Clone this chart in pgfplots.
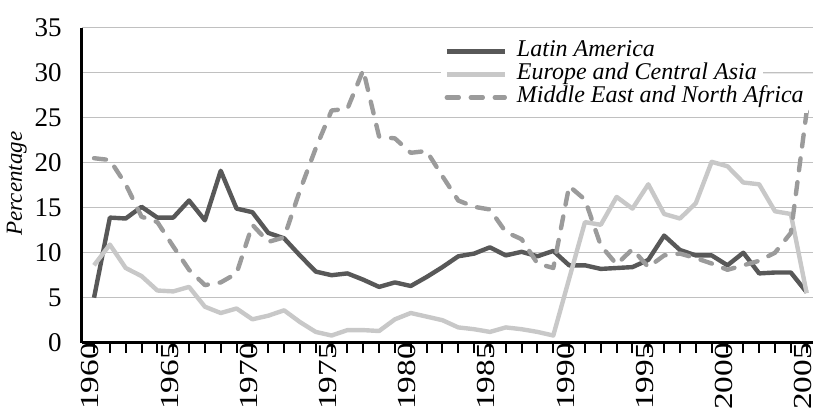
\documentclass[border=0pt]{standalone}
\usepackage{fontspec}
\setmainfont{Liberation Serif}
\usepackage{graphicx}
\usepackage{pgfplots}
\usepackage{pgfplotstable}
\pgfplotsset{compat=1.18}

\definecolor{latam}{RGB}{88,88,88}
\definecolor{eca}{RGB}{200,200,200}
\definecolor{mena}{RGB}{155,155,155}
\definecolor{gridc}{RGB}{192,192,192}

% shares by region
\pgfplotstableread{
year latam eca  mena
1960 5.0   8.6  20.5
1961 13.9  10.9 20.3
1962 13.8  8.3  17.6
1963 15.1  7.4  14.0
1964 13.9  5.8  13.4
1965 13.9  5.7  10.7
1966 15.8  6.2  8.1
1967 13.6  4.0  6.4
1968 19.1  3.3  6.7
1969 14.9  3.8  7.7
1970 14.5  2.6  13.1
1971 12.2  3.0  11.2
1972 11.6  3.6  11.7
1973 9.7   2.3  16.9
1974 7.9   1.2  21.6
1975 7.5   0.8  25.8
1976 7.7   1.4  26.0
1977 7.0   1.4  30.3
1978 6.2   1.3  22.9
1979 6.7   2.6  22.7
1980 6.3   3.3  21.1
1981 7.3   2.9  21.3
1982 8.4   2.5  18.5
1983 9.6   1.7  15.8
1984 9.9   1.5  15.1
1985 10.6  1.2  14.8
1986 9.7   1.7  12.3
1987 10.1  1.5  11.5
1988 9.6   1.2  8.8
1989 10.2  0.8  8.3
1990 8.6   7.1  17.4
1991 8.6   13.4 15.9
1992 8.2   13.1 10.8
1993 8.3   16.2 8.7
1994 8.4   14.9 10.4
1995 9.2   17.6 8.4
1996 11.9  14.3 9.7
1997 10.3  13.8 9.9
1998 9.7   15.5 9.4
1999 9.7   20.1 8.8
2000 8.6   19.6 8.1
2001 10.0  17.8 8.6
2002 7.7   17.6 9.1
2003 7.8   14.6 10.0
2004 7.8   14.3 12.2
2005 5.6   5.5  25.7
}\shares

\begin{document}
\begin{tikzpicture}
\begin{axis}[name=ax,
  width=365.5pt, height=157.5pt, scale only axis,
  xmin=1959.24, xmax=2005.4, ymin=0, ymax=35,
  axis x line*=bottom, axis y line*=left,
  axis line style={-, line width=1.5pt, black},
  /pgf/number format/assume math mode=true,
  xtick={1960,1965,...,2005}, minor xtick={1960,1961,...,2005},
  tick align=outside, major tick length=5pt, minor tick length=5pt,
  xtick style={line width=1pt, black},
  xticklabel={\scalebox{1.28}[1]{\pgfmathprintnumber[1000 sep={}]{\tick}}},
  xticklabel style={rotate=90, anchor=east, inner sep=0pt, font=\fontsize{13}{15}\selectfont, yshift=1.8pt},
  xticklabel shift=-5pt,
  ytick={0,5,...,35}, ytick style={draw=none},
  yticklabel style={font=\fontsize{13.5}{15}\selectfont, anchor=east, inner sep=0pt, xshift=-5pt},
  ymajorgrids, grid style={gridc, line width=0.6pt},
  ylabel={Percentage},
  ylabel style={font=\fontsize{11.5}{13}\selectfont\itshape, at={(axis description cs:-0.066,0.505)}, anchor=south},
  legend cell align=left,
  legend image code/.code={\draw[#1] (0pt,0pt) -- (29pt,0pt);},
  legend style={draw=none, fill=white, at={(0.49,0.975)}, anchor=north west,
    font=\fontsize{12}{13}\selectfont\itshape, row sep=0pt, column sep=5pt,
    inner sep=2pt, nodes={inner sep=0pt, text height=8.5pt, text depth=3pt}},
]
\addplot[latam, line width=2.2pt, line join=round] table[x=year, y=latam] {\shares};
\addlegendentry{Latin America}
\addplot[eca, line width=2.2pt, line join=round] table[x=year, y=eca] {\shares};
\addlegendentry{Europe and Central Asia}
\addplot[mena, line width=2.2pt, line join=round, line cap=round, dash pattern=on 6pt off 6pt] table[x=year, y=mena] {\shares};
\addlegendentry{Middle East and North Africa}
\end{axis}
% gridline at 30 showing to the right of the legend
\draw[gridc, line width=0.6pt] ([xshift=340.5pt, yshift=135pt]ax.south west) -- ([yshift=-22.5pt]ax.north east);
\pgfresetboundingbox
\path ([xshift=-41pt, yshift=-32.65pt]ax.south west) rectangle ([yshift=13.85pt]ax.north east);
\end{tikzpicture}
\end{document}
